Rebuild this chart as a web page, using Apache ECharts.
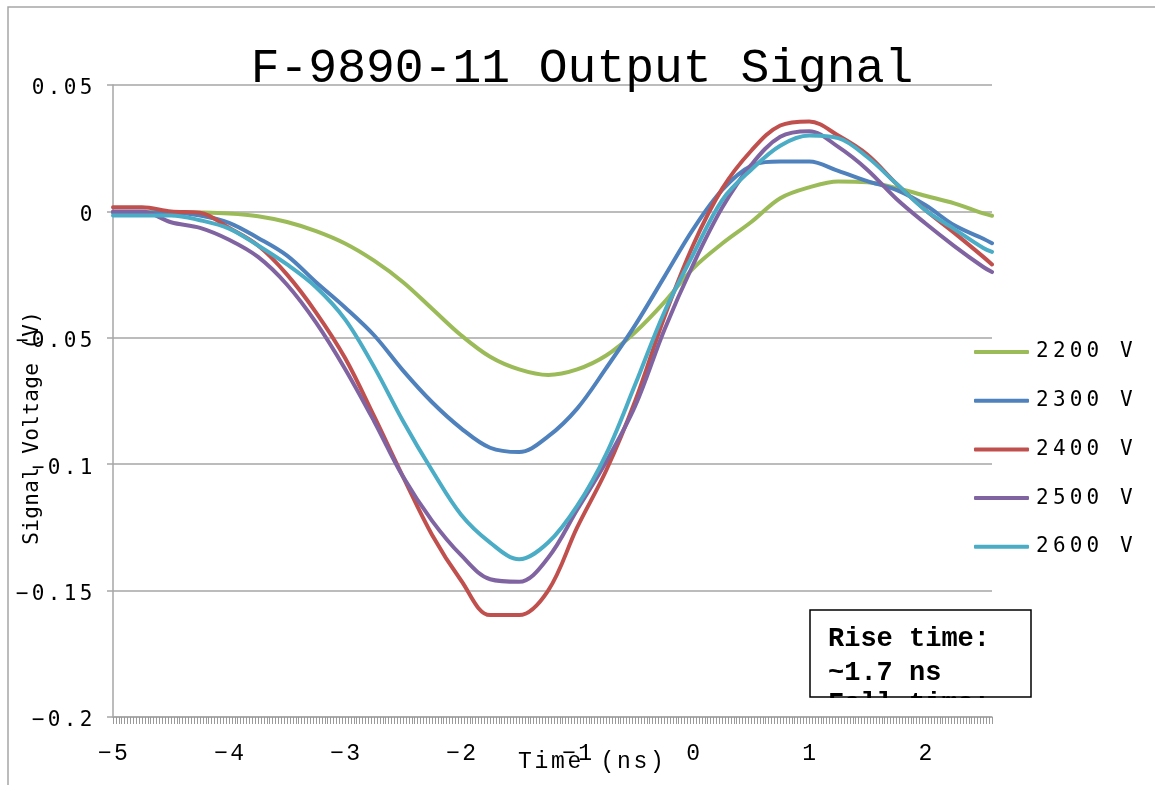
<!DOCTYPE html>
<html>
<head>
<meta charset="utf-8">
<title>F-9890-11 Output Signal</title>
<script src="https://cdn.jsdelivr.net/npm/echarts@6/dist/echarts.min.js"></script>
<style>
  html, body { margin: 0; padding: 0; background: #fff; }
  #chart { width: 1155px; height: 785px; }
</style>
</head>
<body>
<div id="chart"></div>
<script>
// Sample times (ns)
const time = [-5, -4.75, -4.5, -4.25, -4, -3.75, -3.5, -3.25, -3, -2.75, -2.5, -2.25, -2, -1.75, -1.5, -1.25,
  -1, -0.75, -0.5, -0.25, 0, 0.25, 0.5, 0.75, 1, 1.25, 1.5, 1.75, 2, 2.25, 2.5, 2.575];

// Output signal (V) for each supply voltage
const v2200 = [-0.0003, -0.0003, -0.0003, -0.0004, -0.0008, -0.0019, -0.0042, -0.0078, -0.0127, -0.0195, -0.0280,
  -0.0385, -0.0490, -0.0575, -0.0625, -0.0647, -0.0625, -0.0570, -0.0478, -0.0360, -0.0225, -0.0127, -0.0042,
  0.0052, 0.0095, 0.0118, 0.0115, 0.0093, 0.0062, 0.0032, -0.0008, -0.0017];
const v2300 = [-0.0004, -0.0004, -0.0004, -0.0016, -0.0045, -0.0105, -0.0175, -0.0280, -0.0380, -0.0490, -0.0630,
  -0.0755, -0.0858, -0.0935, -0.0952, -0.0890, -0.0780, -0.0620, -0.0450, -0.0260, -0.0070, 0.0085, 0.0180,
  0.0197, 0.0197, 0.0160, 0.0120, 0.0085, 0.0025, -0.0055, -0.0108, -0.0126];
const v2400 = [0.0016, 0.0016, 0.0000, -0.0005, -0.0065, -0.0135, -0.0250, -0.0400, -0.0580, -0.0810, -0.1050,
  -0.1280, -0.1460, -0.1597, -0.1597, -0.1500, -0.1250, -0.1025, -0.0750, -0.0420, -0.0133, 0.0090, 0.0240,
  0.0340, 0.0356, 0.0300, 0.0225, 0.0110, 0.0006, -0.0085, -0.0180, -0.0210];
const v2500 = [0.0000, 0.0000, -0.0043, -0.0065, -0.0112, -0.0180, -0.0290, -0.0440, -0.0623, -0.0830, -0.1050,
  -0.1224, -0.1360, -0.1455, -0.1465, -0.1370, -0.1180, -0.0990, -0.0770, -0.0470, -0.0210, 0.0015, 0.0184,
  0.0295, 0.0317, 0.0255, 0.0165, 0.0050, -0.0047, -0.0137, -0.0220, -0.0240];
const v2600 = [-0.0016, -0.0016, -0.0016, -0.0035, -0.0068, -0.0135, -0.0210, -0.0300, -0.0427, -0.0615, -0.0830,
  -0.1025, -0.1200, -0.1310, -0.1376, -0.1310, -0.1165, -0.0960, -0.0685, -0.0400, -0.0170, 0.0045, 0.0165,
  0.0260, 0.0300, 0.0290, 0.0215, 0.0110, 0.0005, -0.0070, -0.0145, -0.0160];

const seriesNames = ['2200 V', '2300 V', '2400 V', '2500 V', '2600 V'];
const seriesValues = [v2200, v2300, v2400, v2500, v2600];
const seriesColors = ['#9BBB59', '#4F81BD', '#C0504D', '#8064A2', '#4BACC6'];

// Axis ranges and tick steps
const xRange = [-5, 2.575];
const xLabelStep = 1;
const xSampleStep = 0.025;
const yRange = [-0.2, 0.05];
const yStep = 0.05;

const MONO_SERIF = '"Liberation Mono", "Courier New", monospace';
const MONO_SANS = '"DejaVu Sans Mono", monospace';

// Wrap every character in a fixed-width rich token to get the wide, evenly spaced lettering
function spaced(str, key) {
  return Array.from(str).map(ch => '{' + key + '|' + ch + '}').join('');
}
function fmtNum(v) {
  const r = Math.round(v * 1000) / 1000;
  if (r === 0) return '0';
  return String(r).replace('-', '\u2212');
}

const chart = echarts.init(document.getElementById('chart'), null, { renderer: 'canvas' });

const option = {
  backgroundColor: '#fff',
  animation: false,
  grid: { left: 113, right: 163, top: 85, bottom: 68, containLabel: false },
  legend: {
    data: seriesNames,
    orient: 'vertical',
    left: 969,
    top: 336.5,
    itemWidth: 55,
    itemHeight: 4,
    itemGap: 27.7,
    icon: 'roundRect',
    formatter: name => spaced(name, 'l'),
    textStyle: {
      rich: { l: { width: 16.8, align: 'center', fontFamily: MONO_SANS, fontSize: 21, lineHeight: 20, color: '#000' } }
    }
  },
  xAxis: [
    {
      type: 'value',
      min: xRange[0],
      max: xRange[1],
      interval: xLabelStep,
      axisLine: { show: true, onZero: false, lineStyle: { color: '#a6a6a6', width: 1.5 } },
      axisTick: { show: false },
      splitLine: { show: false },
      axisLabel: {
        showMaxLabel: false,
        margin: 26,
        formatter: v => spaced(fmtNum(v), 'x'),
        rich: { x: { width: 16, align: 'center', fontFamily: MONO_SERIF, fontSize: 23, lineHeight: 22, color: '#000' } }
      }
    },
    {
      // fine sample ticks along the time axis
      type: 'value',
      position: 'bottom',
      min: xRange[0],
      max: xRange[1],
      interval: xSampleStep,
      axisLine: { show: false, onZero: false },
      axisLabel: { show: false },
      splitLine: { show: false },
      axisTick: { show: true, length: 7, lineStyle: { color: '#9a9a9a', width: 1 } }
    }
  ],
  yAxis: {
    type: 'value',
    min: yRange[0],
    max: yRange[1],
    interval: yStep,
    axisLine: { show: true, onZero: false, lineStyle: { color: '#a6a6a6', width: 1.5 } },
    axisTick: { show: true, length: 6, lineStyle: { color: '#a6a6a6', width: 1.5 } },
    splitLine: { show: true, lineStyle: { color: '#a6a6a6', width: 1.5 } },
    axisLabel: {
      margin: 19,
      padding: [8, 0, 0, 0],
      formatter: v => spaced(fmtNum(v), 'y'),
      rich: { y: { width: 16, align: 'center', fontFamily: MONO_SANS, fontSize: 21, lineHeight: 20, color: '#000' } }
    }
  },
  series: seriesNames.map((name, i) => ({
    name: name,
    type: 'line',
    xAxisIndex: 0,
    data: time.map((t, k) => [t, seriesValues[i][k]]),
    showSymbol: false,
    symbol: 'none',
    smooth: 0.35,
    lineStyle: { color: seriesColors[i], width: 4, cap: 'round', join: 'round' },
    itemStyle: { color: seriesColors[i] },
    z: 3 + i
  })),
  graphic: [
    {
      type: 'rect',
      silent: true,
      z: 0,
      shape: { x: 8, y: 7, width: 1200, height: 820 },
      style: { fill: 'none', stroke: '#a6a6a6', lineWidth: 1.5 }
    },
    {
      type: 'text',
      z: 20,
      x: 582,
      y: 69,
      style: {
        text: 'F-9890-11 Output Signal',
        fill: '#000',
        font: '48px ' + MONO_SERIF,
        align: 'center',
        verticalAlign: 'middle'
      }
    },
    {
      type: 'text',
      z: 20,
      x: 591,
      y: 762,
      style: {
        text: spaced('Time (ns)', 'n'),
        align: 'center',
        verticalAlign: 'middle',
        rich: { n: { width: 16.5, align: 'center', fontFamily: MONO_SERIF, fontSize: 23, lineHeight: 24, fill: '#000' } }
      }
    },
    {
      type: 'text',
      z: 20,
      x: 33,
      y: 428,
      rotation: Math.PI / 2,
      style: {
        text: spaced('Signal Voltage (V)', 'n'),
        align: 'center',
        verticalAlign: 'middle',
        rich: { n: { width: 13, align: 'center', fontFamily: MONO_SANS, fontSize: 21, lineHeight: 22, fill: '#000' } }
      }
    },
    // annotation box
    {
      type: 'rect',
      z: 30,
      shape: { x: 810, y: 610, width: 221, height: 87 },
      style: { fill: '#fff', stroke: 'none' }
    },
    {
      type: 'text',
      z: 31,
      x: 828,
      y: 639,
      style: { text: 'Rise time:', fill: '#000', font: 'bold 27px ' + MONO_SERIF, align: 'left', verticalAlign: 'middle' }
    },
    {
      type: 'text',
      z: 31,
      x: 828,
      y: 673,
      style: { text: '~1.7 ns', fill: '#000', font: 'bold 27px ' + MONO_SERIF, align: 'left', verticalAlign: 'middle' }
    },
    {
      type: 'text',
      z: 31,
      x: 828,
      y: 704,
      style: { text: 'Fall time:', fill: '#000', font: 'bold 27px ' + MONO_SERIF, align: 'left', verticalAlign: 'middle' }
    },
    {
      type: 'rect',
      z: 32,
      shape: { x: 805, y: 698, width: 232, height: 17 },
      style: { fill: '#fff', stroke: 'none' }
    },
    {
      type: 'rect',
      z: 33,
      shape: { x: 810, y: 610, width: 221, height: 87 },
      style: { fill: 'none', stroke: '#000', lineWidth: 1.5 }
    }
  ]
};

chart.setOption(option);
</script>
</body>
</html>
